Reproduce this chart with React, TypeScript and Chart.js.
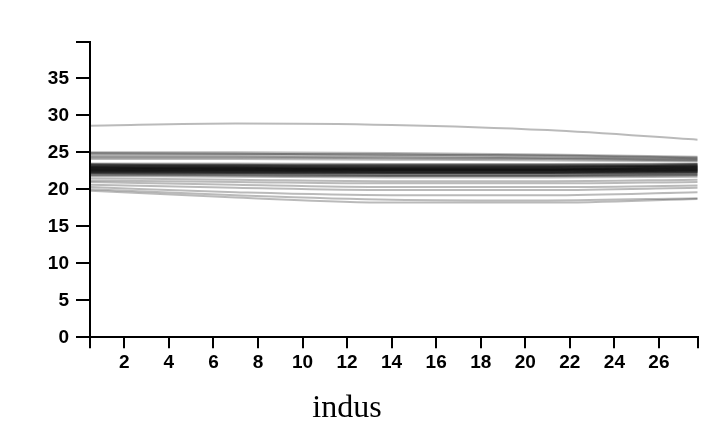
import React, { useEffect, useRef } from "react";
import { Chart, registerables } from "chart.js";

Chart.register(...registerables);

// x grid (indus) at which each ICE curve is sampled
const X_POINTS = [0.46, 7, 14, 21, 27.74];

// one row per curve: predicted value at each X_POINTS entry
const OUTLIER_LINES = [[28.6, 28.9, 28.7, 28.0, 26.7]];

const UPPER_LINES = [
  [25.0, 25.0, 24.9, 24.7, 24.4],
  [24.9, 24.8, 24.7, 24.6, 24.3],
  [24.8, 24.8, 24.7, 24.5, 24.2],
  [24.6, 24.6, 24.5, 24.3, 24.1],
  [24.4, 24.4, 24.3, 24.2, 24.0],
  [24.3, 24.3, 24.2, 24.1, 23.9],
  [24.1, 24.1, 24.0, 23.9, 23.8],
];

const CORE_LINES = [
  [23.5, 23.5, 23.4, 23.4, 23.5],
  [23.4, 23.3, 23.2, 23.2, 23.3],
  [23.35, 23.3, 23.3, 23.3, 23.4],
  [23.3, 23.3, 23.3, 23.3, 23.4],
  [23.25, 23.2, 23.1, 23.1, 23.2],
  [23.2, 23.1, 23.0, 23.0, 23.1],
  [23.15, 23.1, 23.1, 23.1, 23.2],
  [23.1, 23.1, 23.1, 23.1, 23.2],
  [23.05, 23.0, 22.9, 22.9, 23.0],
  [23.0, 22.9, 22.9, 22.9, 23.0],
  [23.0, 23.0, 22.9, 22.9, 23.1],
  [22.95, 22.9, 22.8, 22.8, 22.9],
  [22.9, 22.9, 22.9, 23.0, 23.1],
  [22.9, 22.85, 22.8, 22.8, 22.9],
  [22.85, 22.8, 22.7, 22.7, 22.8],
  [22.8, 22.8, 22.7, 22.7, 22.8],
  [22.8, 22.75, 22.7, 22.7, 22.85],
  [22.75, 22.7, 22.6, 22.6, 22.7],
  [22.7, 22.7, 22.7, 22.7, 22.9],
  [22.7, 22.65, 22.6, 22.6, 22.7],
  [22.65, 22.6, 22.5, 22.5, 22.6],
  [22.6, 22.6, 22.6, 22.6, 22.7],
  [22.6, 22.55, 22.5, 22.5, 22.6],
  [22.55, 22.5, 22.4, 22.4, 22.5],
  [22.5, 22.5, 22.5, 22.5, 22.6],
  [22.5, 22.45, 22.4, 22.4, 22.5],
  [22.45, 22.4, 22.3, 22.3, 22.4],
  [22.4, 22.4, 22.4, 22.4, 22.5],
  [22.4, 22.35, 22.3, 22.3, 22.4],
  [22.35, 22.3, 22.2, 22.2, 22.3],
  [22.3, 22.2, 22.1, 22.1, 22.2],
  [22.25, 22.2, 22.2, 22.2, 22.3],
  [22.2, 22.2, 22.2, 22.2, 22.3],
  [22.15, 22.1, 22.0, 22.0, 22.1],
  [22.1, 22.0, 21.9, 21.9, 22.0],
  [22.0, 21.9, 21.8, 21.8, 21.9],
  [21.9, 21.85, 21.8, 21.8, 21.9],
  [21.8, 21.7, 21.6, 21.6, 21.7],
];

const LOWER_LINES = [
  [21.5, 21.3, 21.1, 21.1, 21.3],
  [21.2, 21.0, 20.8, 20.8, 21.0],
  [21.0, 20.6, 20.3, 20.3, 20.5],
  [20.6, 20.2, 19.9, 19.9, 20.2],
  [20.3, 19.6, 19.2, 19.2, 19.6],
  [20.0, 19.2, 18.6, 18.5, 18.8],
  [19.8, 18.9, 18.2, 18.2, 18.7],
];

const X_TICKS = [2, 4, 6, 8, 10, 12, 14, 16, 18, 20, 22, 24, 26];
const Y_TICKS = [0, 5, 10, 15, 20, 25, 30, 35];
const X_MIN = 0.46;
const X_MAX = 27.74;
const Y_MIN = 0;
const Y_MAX = 39.86;
const X_TITLE = "indus";

const LINE_COLOR = "rgba(0,0,0,0.27)";
const TICK_FONT = {
  family: '"Liberation Sans", Arial, Helvetica, sans-serif',
  size: 19,
  weight: "bold" as const,
};

export default function App() {
  const canvasRef = useRef<HTMLCanvasElement | null>(null);

  useEffect(() => {
    document.body.style.margin = "0";
    const canvas = canvasRef.current;
    if (!canvas) return;

    const allLines = [...OUTLIER_LINES, ...UPPER_LINES, ...CORE_LINES, ...LOWER_LINES];
    const datasets = allLines.map((ys, i) => ({
      label: "curve " + i,
      data: X_POINTS.map((x, j) => ({ x, y: ys[j] })),
      borderColor: LINE_COLOR,
      borderWidth: 2,
      pointRadius: 0,
      fill: false,
      cubicInterpolationMode: "monotone" as const,
    }));

    const titlePlugin = {
      id: "xTitleText",
      afterDraw(chart: any) {
        const ctx = chart.ctx;
        ctx.save();
        ctx.font = '32px "Liberation Serif", "Times New Roman", serif';
        ctx.fillStyle = "#000";
        ctx.textAlign = "center";
        ctx.textBaseline = "alphabetic";
        ctx.fillText(X_TITLE, 347, 417);
        ctx.restore();
      },
    };

    const chart = new Chart(canvas, {
      type: "line",
      data: { datasets },
      plugins: [titlePlugin],
      options: {
        animation: false,
        responsive: false,
        events: [],
        layout: { padding: { top: 42.3, right: 13.3, bottom: 47.7, left: 0 } },
        plugins: {
          legend: { display: false },
          tooltip: { enabled: false },
          title: { display: false },
        },
        scales: {
          x: {
            type: "linear",
            min: X_MIN,
            max: X_MAX,
            afterBuildTicks: (scale: any) => {
              scale.ticks = [X_MIN, ...X_TICKS, X_MAX].map((v) => ({ value: v }));
            },
            afterFit: (scale: any) => {
              scale.height = 40;
            },
            ticks: {
              autoSkip: false,
              maxRotation: 0,
              padding: 3,
              color: "#000",
              font: TICK_FONT,
              callback: (v: any) => (X_TICKS.includes(Number(v)) ? String(v) : ""),
            },
            grid: {
              drawOnChartArea: false,
              drawTicks: true,
              tickLength: 11,
              color: "#000",
              lineWidth: 2,
            },
            border: { display: true, color: "#000", width: 2 },
          },
          y: {
            type: "linear",
            min: Y_MIN,
            max: Y_MAX,
            afterBuildTicks: (scale: any) => {
              scale.ticks = [...Y_TICKS, Y_MAX].map((v) => ({ value: v }));
            },
            afterFit: (scale: any) => {
              scale.width = 90;
            },
            ticks: {
              autoSkip: false,
              padding: 7,
              color: "#000",
              font: TICK_FONT,
              callback: (v: any) => (Y_TICKS.includes(Number(v)) ? String(v) : ""),
            },
            grid: {
              drawOnChartArea: false,
              drawTicks: true,
              tickLength: 14,
              color: "#000",
              lineWidth: 2,
            },
            border: { display: true, color: "#000", width: 2 },
          },
        },
      },
    });

    return () => chart.destroy();
  }, []);

  return (
    <div style={{ width: 711, height: 425, background: "#fff" }}>
      <canvas ref={canvasRef} width={711} height={425} style={{ display: "block" }} />
    </div>
  );
}
